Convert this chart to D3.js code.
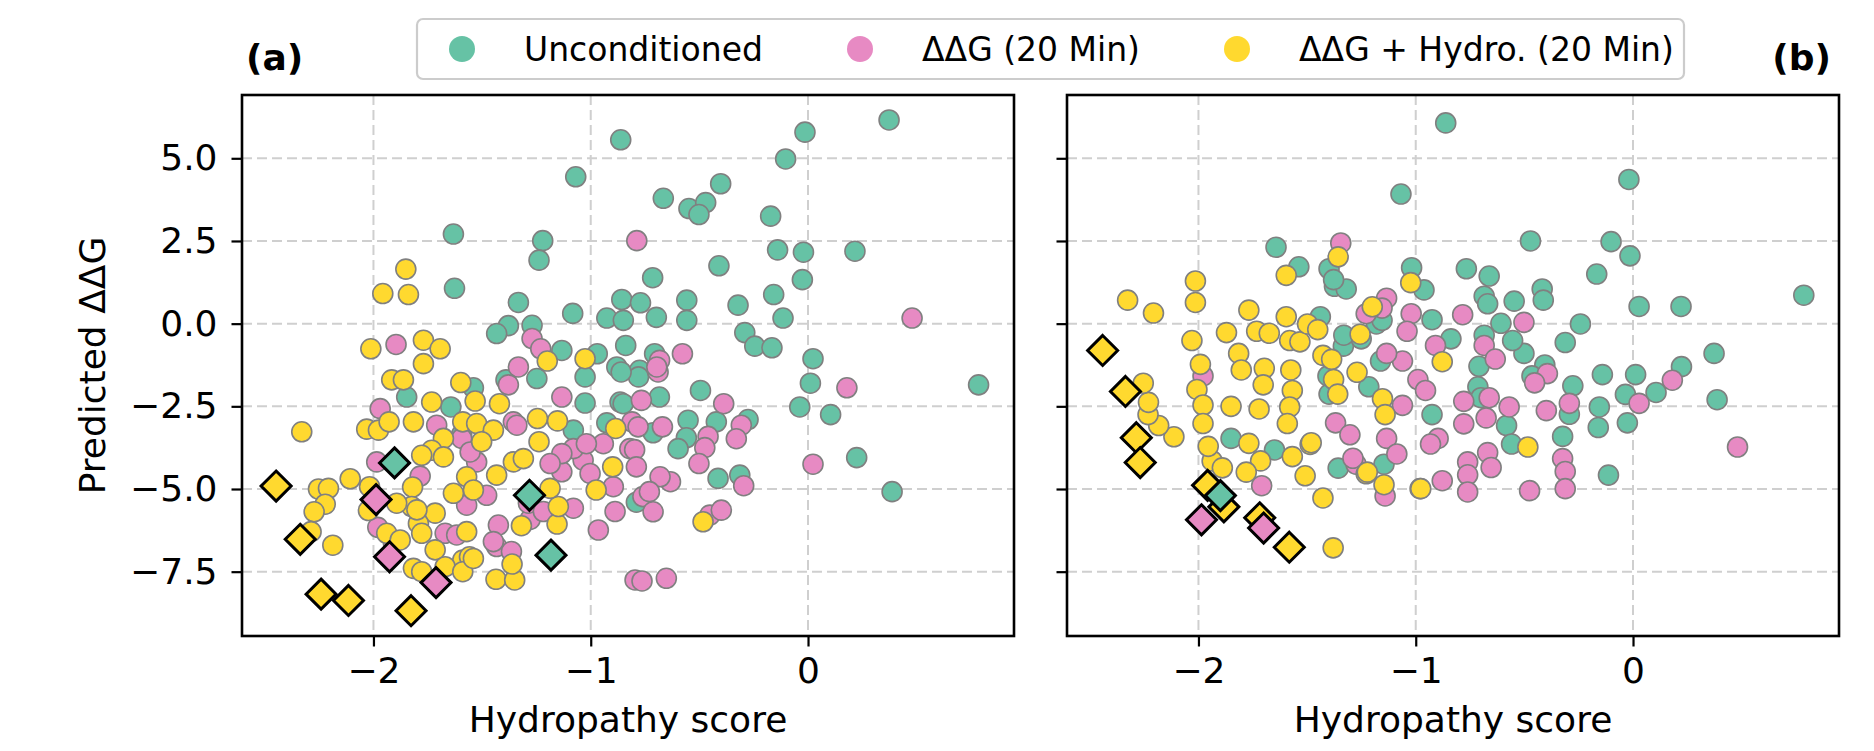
<!DOCTYPE html>
<html><head><meta charset="utf-8">
<script src="https://cdn.jsdelivr.net/npm/d3@7"></script>
<style>body{margin:0;background:#fff}svg{display:block}text{font-family:"DejaVu Sans",sans-serif}</style>
</head><body><svg id="c" width="1874" height="751"></svg>
<script>
// ---------- data ----------
const seriesNames = ["Unconditioned", "ΔΔG (20 Min)", "ΔΔG + Hydro. (20 Min)"];
const xTicks = [-2, -1, 0];
const yTicks = [5.0, 2.5, 0.0, -2.5, -5.0, -7.5];
const panelLabels = ["(a)", "(b)"];
const xLabel = "Hydropathy score";
const yLabel = "Predicted ΔΔG";

// panel (a)
const a_uncond = [[-0.862,5.56],[-1.069,4.44],[-1.632,2.71],[-1.221,2.51],[-1.238,1.92],[-1.627,1.07],[-1.333,0.64],[-1.083,0.31],[-0.857,0.73],[-0.926,0.17],[-0.85,0.10],[-0.839,-0.66],[-1.379,-0.06],[-1.433,-0.30],[-1.27,-0.05],[-1.133,-0.81],[-0.97,-0.91],[-0.88,-1.31],
[0.373,6.16],[-0.014,5.79],[-0.103,4.98],[-0.402,4.23],[-0.666,3.79],[-0.548,3.48],[-0.471,3.66],[-0.502,3.3],[-0.172,3.25],[-0.14,2.23],[-0.021,2.16],[0.216,2.19],[-0.41,1.75],[-0.715,1.39],[-0.026,1.33],[-0.158,0.88],[-0.771,0.63],[-0.558,0.71],[-0.322,0.56],[-0.698,0.19],[-0.558,0.10],[-0.115,0.17],[-0.291,-0.27],[-0.245,-0.68],[-0.166,-0.73],[-0.706,-0.91],[0.023,-1.06],[-0.775,-1.41],
[-1.847,-2.22],[-1.644,-2.52],[-1.54,-1.94],[-1.026,-1.61],[-1.248,-1.66],[-1.026,-2.4],[-0.865,-2.37],[-0.926,-3.0],[-1.39,-1.7],[-1.08,-3.22],[-1.594,-3.35],[-0.79,-5.4],
[0.785,-1.85],[0.011,-1.8],[-0.038,-2.52],[0.104,-2.75],[0.224,-4.05],[0.387,-5.08],[-0.495,-2.02],[-0.276,-2.9],[-0.422,-2.97],[-0.552,-2.92],[-0.56,-3.45],[-0.598,-3.78],[-0.414,-4.68],[-0.314,-4.58],[-0.684,-2.22],[-0.78,-1.61],[-0.86,-1.46],[-0.851,-2.42],[-0.713,-3.3]];
const a_ddg = [[-0.788,2.51],[-1.896,-0.63],[-1.27,-0.45],[-1.333,-1.31],[-1.23,-0.76],[0.479,0.17],[-0.683,-1.11],[-0.578,-0.91],[-0.69,-1.46],
[-1.969,-2.57],[-1.985,-4.18],[-1.379,-1.85],[-1.594,-3.47],[-1.785,-4.61],[-1.425,-6.09],[-1.433,-6.74],[-1.365,-6.89],[-1.279,-5.92],[-1.479,-5.19],[-1.571,-5.49],[-0.965,-6.24],[-0.888,-5.68],[-0.896,-4.93],[-0.796,-7.75],[-1.133,-4.48],[-1.035,-4.13],[-1.08,-3.78],[-0.942,-3.63],[-0.82,-3.78],[-1.356,-2.97],[-1.133,-3.93],[-1.187,-4.23],[-1.525,-4.18],[-1.555,-3.88],[-1.67,-6.34],[-1.133,-2.22],[-0.81,-2.97],
[-1.709,-3.07],[-1.34,-3.07],[-1.02,-3.63],[-1.003,-4.53],[-1.287,-5.43],[-1.218,-5.68],[-1.08,-5.58],[-1.448,-6.59],[-1.617,-6.39],[-1.908,-6.64],[-1.98,-6.16],
[0.179,-1.94],[0.023,-4.25],[-0.764,-7.78],[-0.652,-7.7],[-0.452,-5.79],[-0.399,-5.64],[-0.388,-2.42],[-0.307,-3.07],[-0.33,-3.48],[-0.46,-3.41],[-0.475,-3.75],[-0.502,-4.23],[-0.296,-4.9],[-0.67,-3.12],[-0.782,-3.12],[-0.798,-3.81],[-0.79,-4.33],[-0.633,-4.78],[-0.681,-4.63],[-0.76,-5.23],[-0.713,-5.69],[-0.73,-5.08],[-0.767,-2.32],[-0.696,-1.31]];
const a_hydro = [[-1.851,1.65],[-1.957,0.91],[-1.839,0.88],[-2.012,-0.76],[-1.77,-0.5],[-1.693,-0.76],[-1.77,-1.21],[-1.2,-1.13],[-1.026,-1.06],
[-2.33,-3.27],[-2.253,-5.0],[-2.207,-4.98],[-2.222,-5.46],[-2.273,-5.69],[-2.287,-6.29],[-2.187,-6.7],[-2.107,-4.69],[-2.018,-4.93],[-2.031,-3.19],[-1.977,-3.22],[-1.928,-2.97],[-1.916,-1.7],[-1.862,-1.7],[-1.816,-2.97],[-1.732,-2.37],[-1.598,-1.78],[-1.532,-2.34],[-1.42,-2.42],[-1.589,-2.97],[-1.525,-3.02],[-1.448,-3.22],[-1.502,-3.57],[-1.678,-3.47],[-1.732,-3.83],[-1.678,-4.03],[-1.778,-3.98],[-1.82,-4.94],[-1.356,-4.18],[-1.433,-4.58],[-1.571,-4.63],[-1.632,-5.13],[-1.824,-5.53],[-1.716,-5.73],[-1.793,-6.04],[-1.939,-6.34],[-1.778,-6.34],[-1.571,-6.29],[-1.716,-6.84],[-1.589,-7.15],[-1.558,-7.05],[-1.816,-7.4],[-1.778,-7.5],[-1.67,-7.35],[-1.589,-7.5],[-1.436,-7.73],[-1.35,-7.75],[-1.362,-7.27],[-1.319,-6.11],[-1.155,-6.06],[-1.149,-5.53],[-1.187,-4.98],[-0.975,-5.03],[-0.899,-4.33],[-0.885,-3.17],[-1.245,-2.87],[-1.153,-2.94],[-1.238,-3.57],
[-1.893,-5.43],[-1.877,-6.54],[-1.8,-5.63],[-1.54,-5.03],[-1.31,-4.08],[-1.54,-7.1],[-2.023,-5.65],[-0.483,-5.99]];
const a_uncond_best = [[-1.903,-4.21],[-1.282,-5.19],[-1.183,-7.0]];
const a_ddg_best = [[-1.988,-5.32],[-1.926,-7.05],[-1.712,-7.83]];
const a_hydro_best = [[-2.448,-4.91],[-2.337,-6.52],[-2.241,-8.18],[-2.115,-8.37],[-1.827,-8.68]];

// panel (b)
const b_uncond = [[-0.862,6.07],[-0.019,4.36],[-1.068,3.92],[-0.472,2.5],[-0.101,2.48],[-0.014,2.05],[-0.167,1.5],[0.786,0.86],[0.028,0.52],[0.221,0.52],[-1.643,2.31],[-1.538,1.72],[-1.399,1.66],[-1.374,1.13],[-1.32,1.05],[-1.019,1.69],[-0.962,1.02],[-0.767,1.66],[-0.662,1.44],[-0.418,1.05],[-0.413,0.71],[-0.547,0.68],[-0.685,0.83],[-0.669,0.6],[-0.925,0.12],[-0.608,0.01],[-0.242,-0.01],[-0.312,-0.57],[0.373,-0.9],[0.223,-1.3],[0.106,-2.08],[0.012,-1.54],[-0.141,-1.54],[-0.035,-2.14],[0.387,-2.3],[-0.026,-3.0],[-0.16,-3.14],[-0.155,-2.52],[-0.113,-4.58],[-0.277,-1.88],[-0.293,-2.74],[-0.324,-3.41],[-0.406,-1.25],[-0.465,-1.58],[-0.502,-0.9],[-0.554,-0.51],[-0.685,-0.35],[-0.582,-3.08],[-0.559,-3.64],[-0.714,-1.91],[-0.7,-2.24],[-0.925,-2.75],[-0.838,-0.46],[-1.162,-1.13],[-1.216,-1.91],[-1.146,-4.25],[-1.357,-4.37],[-1.65,-3.82],[-1.85,-3.47],[-1.399,-2.13],[-1.404,-1.58],[-1.333,-0.68],[-1.251,-0.46],[-1.181,-0.01],[-1.439,0.21],
[-1.378,1.33],[-1.155,0.1],[-1.331,-0.35],[-0.709,-1.29]];
const b_ddg = [[-1.345,2.44],[-1.134,0.77],[-1.021,0.3],[-1.04,-0.23],[-0.784,0.27],[-0.502,0.04],[0.181,-1.71],[0.028,-2.41],[0.481,-3.73],[-0.293,-2.41],[-0.324,-4.08],[-0.312,-4.47],[-0.312,-4.99],[-0.476,-5.05],[-0.394,-1.51],[-0.453,-1.79],[-0.685,-0.66],[-0.634,-1.07],[-0.57,-2.52],[-0.399,-2.63],[-0.676,-2.85],[-0.669,-3.9],[-0.653,-4.35],[-0.761,-4.18],[-0.761,-4.57],[-0.761,-5.09],[-0.878,-4.75],[-0.98,-4.99],[-0.779,-2.35],[-0.779,-3.03],[-0.897,-3.47],[-0.932,-3.64],[-0.99,-1.69],[-0.955,-2.02],[-1.061,-2.47],[-1.061,-1.13],[-0.909,-0.66],[-1.134,-0.9],[-1.134,-3.47],[-1.087,-3.94],[-1.141,-5.21],[-1.275,-4.25],[-1.709,-4.9],[-1.979,-1.58],[-1.289,-4.07],[-1.369,-3.0],[-1.303,-3.36],[-1.228,0.3],[-0.662,-2.24],[-1.155,0.47]];
const b_hydro = [[-1.357,2.02],[-1.596,1.46],[-1.023,1.24],[-1.2,0.51],[-0.977,-4.99],[-0.484,-3.73],[-0.878,-1.15],[-1.146,-4.87],[-1.228,-4.54],[-1.427,-5.27],[-1.38,-6.78],[-1.509,-4.6],[-1.568,-4.02],[-1.486,-3.65],[-1.714,-4.15],[-1.78,-4.49],[-1.937,-4.15],[-1.89,-4.36],[-1.955,-3.71],[-2.113,-3.42],[-2.183,-3.08],[-2.232,-2.75],[-2.23,-2.38],[-2.254,-1.8],[-2.326,0.71],[-2.207,0.32],[-2.014,1.29],[-2.014,0.64],[-2.03,-0.51],[-1.991,-1.23],[-2.007,-1.99],[-1.979,-2.46],[-1.979,-3.02],[-1.871,-0.27],[-1.815,-0.9],[-1.768,0.41],[-1.732,-0.23],[-1.674,-0.29],[-1.596,0.21],[-1.58,-0.51],[-1.533,-0.55],[-1.498,-0.01],[-1.451,-0.18],[-1.427,-0.96],[-1.256,-0.32],[-1.387,-1.08],[-1.27,-1.47],[-1.378,-1.69],[-1.359,-2.13],[-1.153,-2.27],[-1.141,-2.75],[-1.223,-4.49],[-1.803,-1.4],[-1.697,-1.35],[-1.702,-1.85],[-1.575,-1.4],[-1.568,-2.02],[-1.58,-2.52],[-1.591,-3.02],[-1.721,-2.58],[-1.85,-2.5],[-1.768,-3.62],[-1.481,-3.6]];
const b_uncond_best = [[-1.899,-5.2]];
const b_ddg_best = [[-1.986,-5.93],[-1.7,-6.18]];
const b_hydro_best = [[-2.441,-0.81],[-2.336,-2.05],[-2.286,-3.45],[-2.268,-4.2],[-1.958,-4.89],[-1.883,-5.54],[-1.718,-5.87],[-1.582,-6.76]];

// ---------- drawing ----------
const colors = ["#66c2a5", "#e78ac3", "#ffd92f"];
const svg = d3.select("#c");
const xDomain = [-2.605, 0.948], yDomain = [-9.445, 6.914];
const plotTop = 95, plotBottom = 636;
const panels = [
  {left: 242, right: 1014, label: panelLabels[0], series: [a_uncond, a_ddg, a_hydro], best: [a_uncond_best, a_ddg_best, a_hydro_best], yAxis: true},
  {left: 1067, right: 1839, label: panelLabels[1], series: [b_uncond, b_ddg, b_hydro], best: [b_uncond_best, b_ddg_best, b_hydro_best], yAxis: false}
];
const fs = 36;
panels.forEach(p => {
  const x = d3.scaleLinear().domain(xDomain).range([p.left, p.right]);
  const y = d3.scaleLinear().domain(yDomain).range([plotBottom, plotTop]);
  const g = svg.append("g");
  g.selectAll(".gx").data(xTicks).join("line")
    .attr("x1", d => x(d)).attr("x2", d => x(d)).attr("y1", plotTop).attr("y2", plotBottom)
    .attr("stroke", "#cfcfcf").attr("stroke-width", 2).attr("stroke-dasharray", "10,5");
  g.selectAll(".gy").data(yTicks).join("line")
    .attr("y1", d => y(d)).attr("y2", d => y(d)).attr("x1", p.left).attr("x2", p.right)
    .attr("stroke", "#cfcfcf").attr("stroke-width", 2).attr("stroke-dasharray", "10,5");
  p.series.forEach((s, i) => {
    g.append("g").selectAll("circle").data(s).join("circle")
      .attr("cx", d => x(d[0])).attr("cy", d => y(d[1])).attr("r", 10)
      .attr("fill", colors[i]).attr("stroke", "#808080").attr("stroke-width", 1.6);
  });
  const diamond = "M0,-15L15,0L0,15L-15,0Z";
  [2, 0, 1].forEach(i => {
    g.append("g").selectAll("path").data(p.best[i]).join("path")
      .attr("d", diamond).attr("transform", d => `translate(${x(d[0])},${y(d[1])})`)
      .attr("fill", colors[i]).attr("stroke", "#000").attr("stroke-width", 3).attr("stroke-linejoin", "miter");
  });
  const xa = g.append("g").attr("transform", `translate(0,${plotBottom})`)
    .call(d3.axisBottom(x).tickValues(xTicks).tickSize(10.5).tickPadding(11).tickFormat(d => String(d).replace("-", "\u2212")));
  xa.select(".domain").remove();
  xa.selectAll("line").attr("stroke", "#000").attr("stroke-width", 2.2);
  xa.selectAll("text").attr("font-size", fs).attr("fill", "#000").attr("font-family", "DejaVu Sans");
  const ya = g.append("g").attr("transform", `translate(${p.left},0)`)
    .call(d3.axisLeft(y).tickValues(yTicks).tickSize(10.5).tickPadding(14).tickFormat(d => p.yAxis ? d3.format(".1f")(d).replace("-", "\u2212") : ""));
  ya.select(".domain").remove();
  ya.selectAll("line").attr("stroke", "#000").attr("stroke-width", 2.2);
  ya.selectAll("text").attr("font-size", fs).attr("fill", "#000").attr("font-family", "DejaVu Sans");
  g.append("rect").attr("x", p.left).attr("y", plotTop).attr("width", p.right - p.left).attr("height", plotBottom - plotTop)
    .attr("fill", "none").attr("stroke", "#000").attr("stroke-width", 2.6);
  g.append("text").attr("x", (p.left + p.right) / 2).attr("y", 732).attr("text-anchor", "middle")
    .attr("font-size", fs).text(xLabel);
  const isA = p.yAxis;
  g.append("text").attr("x", isA ? p.left + 4 : p.right - 8).attr("y", 70)
    .attr("text-anchor", isA ? "start" : "end").attr("font-weight", "bold").attr("font-size", fs).text(p.label);
});
svg.append("text").attr("transform", `translate(105,${(plotTop + plotBottom) / 2}) rotate(-90)`)
  .attr("text-anchor", "middle").attr("font-size", fs).text(yLabel);

const lg = svg.append("g");
lg.append("rect").attr("x", 417).attr("y", 19).attr("width", 1267).attr("height", 60).attr("rx", 6)
  .attr("fill", "#fff").attr("stroke", "#cccccc").attr("stroke-width", 2.2);
const legX = [462, 860, 1237];
seriesNames.forEach((n, i) => {
  lg.append("circle").attr("cx", legX[i]).attr("cy", 49).attr("r", 13).attr("fill", colors[i]);
  lg.append("text").attr("x", legX[i] + 62).attr("y", 61).attr("font-size", 33).text(n);
});
</script></body></html>
